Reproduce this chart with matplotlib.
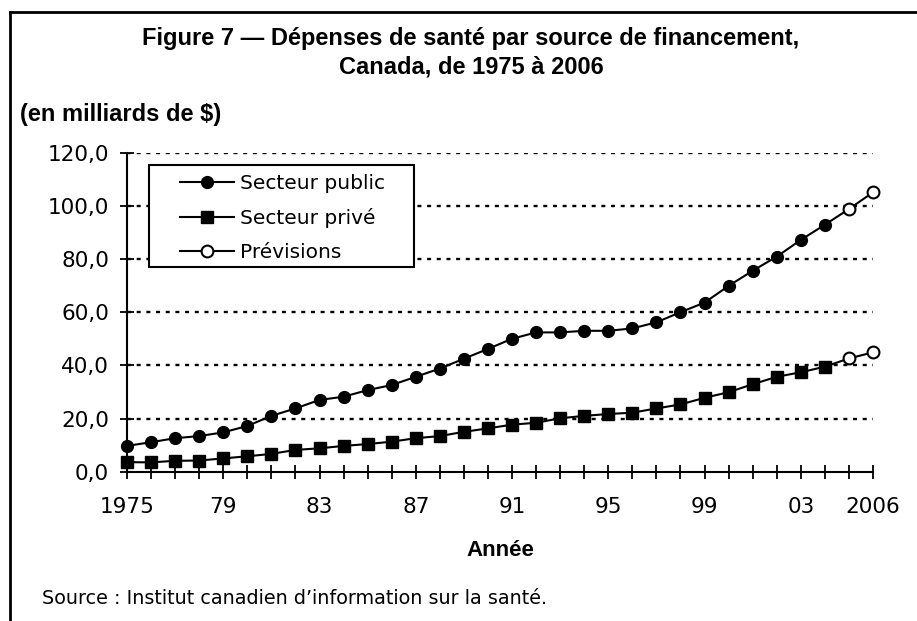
import numpy as np
import matplotlib.pyplot as plt
from matplotlib.lines import Line2D
from matplotlib.patches import Rectangle

years = np.arange(1975, 2007)
public = [9.7, 11.1, 12.6, 13.4, 14.8, 17.2, 21.0, 23.8, 27.0, 28.2,
          30.7, 32.6, 35.7, 38.8, 42.5, 46.2, 50.0, 52.4, 52.4, 53.0,
          53.0, 53.9, 56.2, 60.0, 63.6, 69.9, 75.6, 80.9, 87.2, 92.9,
          98.8, 105.1]
prive = [3.6, 3.5, 4.1, 4.2, 5.0, 5.8, 6.7, 8.2, 8.8, 9.7,
         10.4, 11.3, 12.6, 13.4, 15.0, 16.3, 17.7, 18.4, 20.1, 21.0,
         21.7, 22.2, 23.8, 25.3, 27.8, 29.9, 32.9, 35.7, 37.4, 39.5,
         42.6, 44.9]
first_forecast = 2005
tick_years = [1975, 1979, 1983, 1987, 1991, 1995, 1999, 2003, 2006]
tick_labels = ['1975', '79', '83', '87', '91', '95', '99', '03', '2006']
yticks = [0, 20, 40, 60, 80, 100, 120]

W, H = 917, 621
fig = plt.figure(figsize=(W / 100, H / 100), dpi=100)
ax = fig.add_axes([127 / W, 1 - 471.7 / H, (873 - 127) / W, (471.7 - 152.7) / H])

public = np.array(public)
prive = np.array(prive)
obs = years < first_forecast
fc = ~obs

ax.plot(years, public, color='black', lw=1.5, clip_on=False, zorder=3)
ax.plot(years, prive, color='black', lw=1.5, clip_on=False, zorder=3)
ax.plot(years[obs], public[obs], 'o', color='black', ms=8.5, clip_on=False, zorder=4)
ax.plot(years[obs], prive[obs], 's', color='black', ms=8, clip_on=False, zorder=4)
ax.plot(years[fc], public[fc], 'o', mfc='white', mec='black', mew=1.5, ms=8.5,
        clip_on=False, zorder=4)
ax.plot(years[fc], prive[fc], 'o', mfc='white', mec='black', mew=1.5, ms=8.5,
        clip_on=False, zorder=4)

ax.set_xlim(1975, 2006)
ax.set_ylim(0, 120)
ax.set_xticks(years, minor=True)
ax.set_xticks(tick_years)
ax.set_xticklabels(tick_labels)
ax.set_yticks(yticks)
ax.set_yticklabels([f'{v:.1f}'.replace('.', ',') for v in yticks])

for s in ['top', 'right']:
    ax.spines[s].set_visible(False)
for s in ['left', 'bottom']:
    ax.spines[s].set_linewidth(1.5)

ax.tick_params(axis='both', which='both', direction='inout', length=10, width=1.3,
               labelsize=15.5, colors='black')
ax.tick_params(axis='x', which='major', pad=13)
ax.tick_params(axis='y', pad=8)
for lab in ax.get_xticklabels() + ax.get_yticklabels():
    lab.set_family('DejaVu Sans')

for v in yticks[1:]:
    ax.axhline(v, color='black', lw=1.7, ls=(0, (1.7, 2.4)), zorder=1)

# legend box (white, hides the gridlines behind it)
fig.add_artist(Rectangle((149 / W, 1 - 267 / H), (414 - 149) / W, (267 - 165) / H,
                         transform=fig.transFigure, fc='white', ec='black', lw=1.5,
                         zorder=4))
handles = [
    Line2D([], [], color='black', lw=1.5, marker='o', ms=8.5),
    Line2D([], [], color='black', lw=1.5, marker='s', ms=8),
    Line2D([], [], color='black', lw=1.5, marker='o', ms=8.5, mfc='white', mew=1.5),
]
leg = fig.legend(handles, ['Secteur public', 'Secteur privé', 'Prévisions'],
                 loc='upper left', bbox_to_anchor=(176 / W, 1 - 170 / H),
                 frameon=False, handlelength=2.7, handletextpad=0.3,
                 labelspacing=0.74, borderpad=0.2, borderaxespad=0,
                 prop={'family': 'DejaVu Sans', 'size': 14.5})
leg.set_zorder(5)

# titles and notes
title_font = ['Liberation Sans', 'DejaVu Sans']
fig.text(471 / W, 1 - 38 / H, 'Figure 7 \u2014 Dépenses de santé par source de financement,',
         ha='center', va='center', fontsize=17, fontweight='bold', family=title_font)
fig.text(471 / W, 1 - 67 / H, 'Canada, de 1975 à 2006',
         ha='center', va='center', fontsize=17, fontweight='bold', family=title_font)
fig.text(20 / W, 1 - 115 / H, '(en milliards de $)',
         ha='left', va='center', fontsize=17, fontweight='bold', family=title_font)
fig.text(500 / W, 1 - 551 / H, 'Année',
         ha='center', va='center', fontsize=16, fontweight='bold', family=title_font)
fig.text(42 / W, 1 - 598 / H, 'Source : Institut canadien d\u2019information sur la santé.',
         ha='left', va='center', fontsize=13.8, family='DejaVu Sans')

# outer frame (top and left edges)
fig.add_artist(Line2D([10 / W, 1], [1 - 12 / H, 1 - 12 / H], transform=fig.transFigure,
                      color='black', lw=2))
fig.add_artist(Line2D([10 / W, 10 / W], [0, 1 - 12 / H], transform=fig.transFigure,
                      color='black', lw=2))

fig.savefig('out.png', dpi=100)
